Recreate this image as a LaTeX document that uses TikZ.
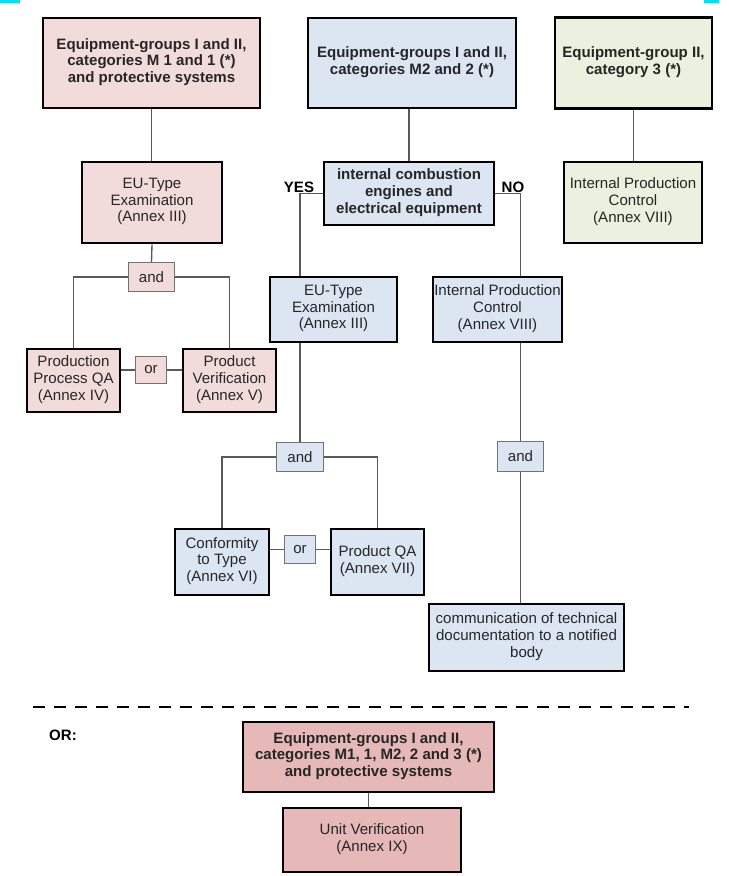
\documentclass[tikz,border=0pt]{standalone}
\usepackage{fontspec}
\setmainfont{Liberation Sans}
\definecolor{pinkA}{HTML}{F2DCDB}
\definecolor{blueB}{HTML}{DCE6F2}
\definecolor{greenC}{HTML}{EBF1DE}
\definecolor{pinkD}{HTML}{E6B9B8}
\definecolor{markC}{HTML}{00E0F8}
\begin{document}
\begin{tikzpicture}[
    x=0.75pt, y=-0.75pt,
    font=\fontsize{11.3}{12.6}\selectfont,
    wh/.style 2 args={minimum width=#1*0.75pt, minimum height=#2*0.75pt},
    box/.style={rectangle, draw=black, line width=2pt, align=center, inner sep=0pt,
        text=black!85, execute at end node={\\[-5pt]\strut}},
    head/.style={box, font=\fontsize{11.3}{12.6}\selectfont\bfseries},
    opbox/.style={rectangle, draw=black!55, line width=0.8pt, inner sep=0pt, text=black!85},
    lbl/.style={font=\fontsize{11.3}{12.6}\selectfont\bfseries, inner sep=0pt},
    link/.style={draw=black!65, line width=1pt},
]
    \fill[white] (0,0) rectangle (729,876);
    \useasboundingbox (0,0) rectangle (729,876);
    \fill[markC] (0,0) rectangle (20,3);
    \fill[markC] (704,0) rectangle (719,3);

    % Groups I and II, M1 and 1
    \node[head, fill=pinkA, wh={217}{90}] (grpA) at (151.5,63) {Equipment-groups I and II,\\categories M 1 and 1 (*)\\and protective systems};
    \node[box, fill=pinkA, wh={140}{81}] (ebtA) at (152,202.5) {EU-Type\\Examination\\(Annex III)};
    \node[opbox, fill=pinkA, wh={46}{29}] (andA) at (151.5,277) {and};
    \node[box, fill=pinkA, wh={93}{63}] (pqaA) at (73.5,380.5) {Production\\Process QA\\(Annex IV)};
    \node[opbox, fill=pinkA, wh={31}{27}] (orA) at (151,370) {or};
    \node[box, fill=pinkA, wh={93}{63}] (pvA) at (229.5,380.5) {Product\\Verification\\(Annex V)};

    \draw[link] (grpA.south) -- (grpA.south |- ebtA.north);
    \draw[link] (ebtA.south) -- (andA.north);
    \draw[link] (andA.west) -| (pqaA.north);
    \draw[link] (andA.east) -| (pvA.north);
    \draw[link] (orA.west) -- (orA.west -| pqaA.east);
    \draw[link] (orA.east) -- (orA.east -| pvA.west);

    % Groups I and II, M2 and 2
    \node[head, fill=blueB, wh={208}{90}] (grpB) at (412,63) {Equipment-groups I and II,\\categories M2 and 2 (*)};
    \node[head, fill=blueB, wh={170}{63}] (ice) at (409,193.5) {internal combustion\\engines and\\electrical equipment};
    \node[lbl] (yesL) at (299,187) {YES};
    \node[lbl] (noL) at (513,187) {NO};
    \node[box, fill=blueB, wh={127}{65}] (ebtB) at (333.5,309.5) {EU-Type\\Examination\\(Annex III)};
    \node[box, fill=blueB, wh={129}{65}] (ipcB) at (497.5,309.5) {Internal Production\\Control\\(Annex VIII)};
    \node[opbox, fill=blueB, wh={47}{29}] (andB) at (300,457) {and};
    \node[opbox, fill=blueB, wh={46}{30}] (andC) at (520.5,456.5) {and};
    \node[box, fill=blueB, wh={94}{66}] (ctt) at (222,562) {Conformity\\to Type\\(Annex VI)};
    \node[opbox, fill=blueB, wh={31}{28}] (orB) at (300,549.5) {or};
    \node[box, fill=blueB, wh={93}{66}] (pqaB) at (377.5,562) {Product QA\\(Annex VII)};
    \node[box, fill=blueB, wh={195}{67}] (doc) at (526.5,637.5) {communication of technical\\documentation to a notified\\body};

    \draw[link] (ice.north) -- (ice.north |- grpB.south);
    \draw[link] (ice.west) -| (ebtB.north -| andB.north);
    \draw[link] (ice.east) -| (ipcB.north -| andC.north);
    \draw[link] (andB.north) -- (andB.north |- ebtB.south);
    \draw[link] (andB.west) -| (ctt.north);
    \draw[link] (andB.east) -| (pqaB.north);
    \draw[link] (orB.west) -- (orB.west -| ctt.east);
    \draw[link] (orB.east) -- (orB.east -| pqaB.west);
    \draw[link] (andC.north) -- (andC.north |- ipcB.south);
    \draw[link] (andC.south) -- (andC.south |- doc.north);

    % Group II, category 3
    \node[head, fill=greenC, wh={157}{91}] (grpC) at (633.5,63) {Equipment-group II,\\category 3 (*)};
    \node[box, fill=greenC, wh={138}{81}] (ipcC) at (633,202.5) {Internal Production\\Control\\(Annex VIII)};
    \draw[link] (grpC.south) -- (grpC.south |- ipcC.north);

    % alternative: unit verification
    \draw[line width=2.2pt, dash pattern=on 9pt off 6.75pt] (33,707) -- (689,707);
    \node[lbl] (orL) at (63,735) {OR:};
    \node[head, fill=pinkD, wh={251}{70}] (grpD) at (368.5,757) {Equipment-groups I and II,\\categories M1, 1, M2, 2 and 3 (*)\\and protective systems};
    \node[box, fill=pinkD, wh={178}{64}] (uv) at (372,840) {Unit Verification\\(Annex IX)};
    \draw[link] (grpD.south) -- (grpD.south |- uv.north);
\end{tikzpicture}
\end{document}
